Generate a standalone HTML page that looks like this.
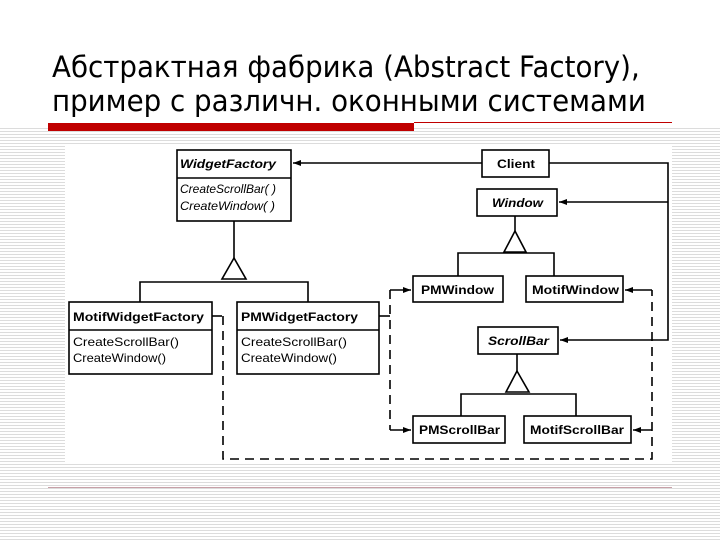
<!DOCTYPE html>
<html><head><meta charset="utf-8"><style>
html,body{margin:0;padding:0}
body{width:720px;height:540px;position:relative;overflow:hidden;background:#fff;font-family:"DejaVu Sans","Liberation Sans",sans-serif}
.stripes{position:absolute;left:0;top:128px;width:720px;height:412px;background:repeating-linear-gradient(to bottom,#dcdcdc 0,#dcdcdc 1px,#fff 1px,#fff 3px)}
.white{position:absolute;left:65px;top:145px;width:607px;height:318px;background:#fff}
h1{position:absolute;left:52px;top:50px;margin:0;font-weight:normal;font-size:29px;line-height:34px;color:#000;white-space:nowrap;transform:scaleX(0.955);transform-origin:0 0}
.red{position:absolute;left:48px;top:123px;width:366px;height:8px;background:#c00000}
.thin{position:absolute;left:414px;top:122px;width:258px;height:1px;background:#c00000}
.pink{position:absolute;left:48px;top:487px;width:624px;height:1px;background:#c8a0a8}
svg{position:absolute;left:0;top:0}
svg text{font-family:"Liberation Sans",sans-serif;font-size:12px;fill:#000}
</style></head><body>
<div class="stripes"></div>
<div class="white"></div>
<h1>Абстрактная фабрика (Abstract Factory),<br>пример с различн. оконными системами</h1>
<div class="red"></div><div class="thin"></div><div class="pink"></div>
<svg width="720" height="540" viewBox="0 0 720 540">
<defs><marker id="a" markerWidth="8" markerHeight="6" refX="8" refY="3" orient="auto" markerUnits="userSpaceOnUse"><path d="M0,0 L8,3 L0,6z" fill="#000"/></marker></defs>
<g fill="#fff" stroke="#000" stroke-width="1.6">
<rect x="177" y="150" width="114" height="71"/><line x1="177" y1="178" x2="291" y2="178"/>
<rect x="482" y="150" width="67" height="27"/>
<rect x="477" y="189" width="80" height="27"/>
<rect x="413" y="276" width="90" height="26"/>
<rect x="526" y="276" width="97" height="26"/>
<rect x="478" y="327" width="80" height="27"/>
<rect x="413" y="416" width="92" height="27"/>
<rect x="524" y="416" width="107" height="27"/>
<rect x="69" y="302" width="143" height="72"/><line x1="69" y1="330" x2="212" y2="330"/>
<rect x="237" y="302" width="142" height="72"/><line x1="237" y1="330" x2="379" y2="330"/>
</g>
<g fill="none" stroke="#000" stroke-width="1.6">
<line x1="234" y1="221" x2="234" y2="258"/><path d="M234,258 L222,279 L246,279z"/>
<polyline points="140,302 140,282 308,282 308,302"/>
<line x1="515" y1="216" x2="515" y2="231"/><path d="M515,231 L504,252 L526,252z"/>
<polyline points="458,276 458,253 554,253 554,276"/>
<line x1="517" y1="354" x2="517" y2="371"/><path d="M517,371 L506,392 L529,392z"/>
<polyline points="461,416 461,394 576,394 576,416"/>
<line x1="482" y1="163" x2="293" y2="163" marker-end="url(#a)"/>
<polyline points="549,163 668,163 668,340 560,340" marker-end="url(#a)"/>
<line x1="668" y1="202" x2="559" y2="202" marker-end="url(#a)"/>
<line x1="212" y1="316" x2="222" y2="316"/><line x1="379" y1="316" x2="390" y2="316"/>
<g stroke-dasharray="9,6">
<polyline points="223,316 223,459 652,459 652,290"/>
<line x1="390" y1="290" x2="390" y2="430"/>
</g>
<line x1="390" y1="290" x2="411" y2="290" marker-end="url(#a)"/>
<line x1="390" y1="430" x2="411" y2="430" marker-end="url(#a)"/>
<line x1="652" y1="290" x2="625" y2="290" marker-end="url(#a)"/>
<line x1="652" y1="430" x2="633" y2="430" marker-end="url(#a)"/>
</g>
<g font-weight="bold">
<text x="180" y="168" font-style="italic" textLength="96" lengthAdjust="spacingAndGlyphs">WidgetFactory</text>
<text x="497" y="168" textLength="38" lengthAdjust="spacingAndGlyphs">Client</text>
<text x="492" y="207" font-style="italic" textLength="51" lengthAdjust="spacingAndGlyphs">Window</text>
<text x="421" y="294" textLength="73" lengthAdjust="spacingAndGlyphs">PMWindow</text>
<text x="532" y="294" textLength="87" lengthAdjust="spacingAndGlyphs">MotifWindow</text>
<text x="488" y="345" font-style="italic" textLength="61" lengthAdjust="spacingAndGlyphs">ScrollBar</text>
<text x="419" y="434" textLength="81" lengthAdjust="spacingAndGlyphs">PMScrollBar</text>
<text x="530" y="434" textLength="94" lengthAdjust="spacingAndGlyphs">MotifScrollBar</text>
<text x="73" y="321" textLength="131" lengthAdjust="spacingAndGlyphs">MotifWidgetFactory</text>
<text x="241" y="321" textLength="117" lengthAdjust="spacingAndGlyphs">PMWidgetFactory</text>
</g>
<text x="180" y="193" font-style="italic" textLength="96" lengthAdjust="spacingAndGlyphs">CreateScrollBar( )</text>
<text x="180" y="210" font-style="italic" textLength="95" lengthAdjust="spacingAndGlyphs">CreateWindow( )</text>
<text x="73" y="346" textLength="106" lengthAdjust="spacingAndGlyphs">CreateScrollBar()</text>
<text x="73" y="362" textLength="93" lengthAdjust="spacingAndGlyphs">CreateWindow()</text>
<text x="241" y="346" textLength="106" lengthAdjust="spacingAndGlyphs">CreateScrollBar()</text>
<text x="241" y="362" textLength="96" lengthAdjust="spacingAndGlyphs">CreateWindow()</text>
</svg>
</body></html>
